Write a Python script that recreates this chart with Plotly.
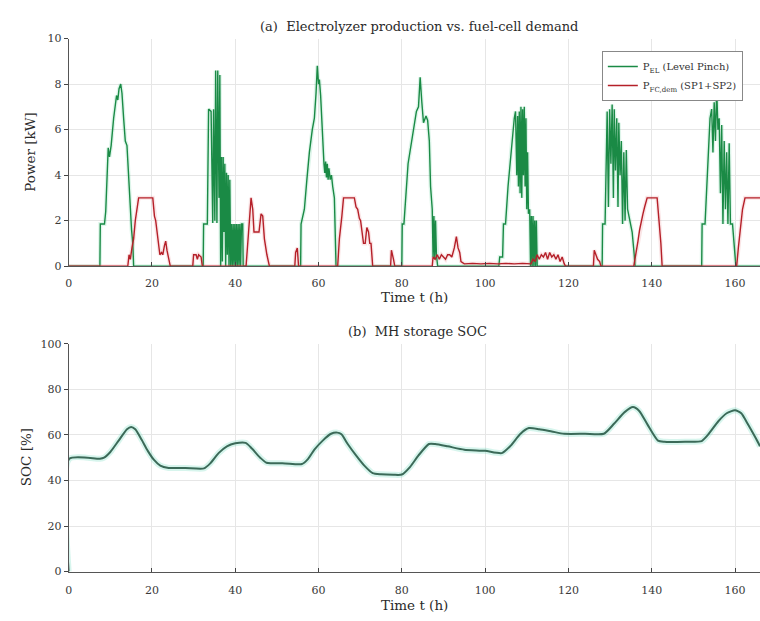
import plotly.graph_objects as go

# ---- electrolyzer power P_EL [kW]: (time h, value) breakpoints ----
el_t = [0, 7.5, 7.6, 8.6, 8.9, 9.3, 9.5, 9.8, 10.2, 10.8, 11.2, 11.5, 11.8, 12.1, 12.5, 12.8, 13.2, 13.6, 14.0, 14.3, 14.6, 14.9, 15.1, 15.4, 15.6,
        32.3, 32.4, 33.3, 33.6, 34.2, 34.6, 34.8, 35.1, 35.3, 35.6, 35.8, 36.1, 36.3, 36.5, 36.7, 36.9, 37.1, 37.3, 37.5, 37.7, 37.9, 38.1, 38.3, 38.5,
        38.7, 38.9, 39.1, 39.3, 39.5, 39.7, 39.9, 40.1, 40.3, 40.5, 40.7, 40.9, 41.1, 41.3, 41.5, 41.8, 41.9,
        55.7, 55.8, 56.6, 57.2, 57.8, 58.5, 59.0, 59.4, 59.7, 60.0, 60.2, 60.5, 60.8, 61.0, 61.3, 61.5, 61.7, 61.9, 62.1, 62.3, 62.5, 62.8, 63.1, 63.4, 63.8, 64.2,
        80.0, 80.1, 80.5, 81.5, 82.3, 83.0, 83.5, 84.0, 84.4, 84.8, 85.2, 85.8, 86.2, 86.6, 86.9, 87.3, 87.5, 87.7, 87.9, 88.1, 88.3, 88.6,
        103.3, 103.5, 104.2, 104.4, 104.9, 105.5, 106.3, 107.0, 107.3, 107.6, 107.8, 108.0, 108.2, 108.4, 108.6, 108.8, 109.0, 109.2, 109.4, 109.6, 109.8,
        110.0, 110.2, 110.4, 110.7, 110.9, 111.1, 111.3, 111.5, 111.7, 111.9, 112.1, 112.3, 112.5,
        128.1, 128.2, 128.8, 129.3, 129.6, 129.9, 130.2, 130.5, 130.8, 131.0, 131.3, 131.6, 131.9, 132.1, 132.4, 132.7, 133.0, 133.3, 133.6, 133.9, 134.2,
        134.5, 134.8, 135.3, 135.8, 136.0,
        152.0, 152.1, 152.8, 153.5, 154.0, 154.4, 154.7, 155.0, 155.3, 155.6, 155.9, 156.2, 156.5, 156.8, 157.1, 157.4, 157.7, 158.0, 158.3, 158.6, 158.9,
        159.4, 159.8, 160.2, 166]
el_p = [0, 0, 1.85, 1.85, 2.4, 4.6, 5.2, 4.8, 5.3, 6.5, 7.2, 7.5, 7.3, 7.8, 8.0, 7.6, 6.5, 5.5, 5.3, 4.2, 3.0, 2.5, 1.6, 1.0, 0,
        0, 1.85, 1.85, 6.9, 6.8, 1.9, 6.9, 2.0, 8.6, 1.9, 8.6, 3.0, 8.4, 0, 4.8, 0.2, 4.8, 1.5, 4.5, 0, 4.1, 0.5, 4.0, 0,
        3.8, 0, 1.85, 0, 1.85, 0, 1.85, 0, 1.85, 0, 1.85, 0, 1.85, 0, 1.85, 1.85, 0,
        0, 1.85, 2.5, 3.8, 5.0, 6.0, 6.5, 7.6, 8.8, 8.0, 8.2, 7.5, 6.3, 5.0, 4.5, 4.1, 4.6, 3.9, 4.5, 3.8, 4.3, 3.8, 4.0, 3.5, 3.0, 0,
        0, 1.85, 1.85, 4.5, 5.5, 6.3, 6.8, 7.0, 8.3, 7.2, 6.3, 6.6, 6.4, 5.5, 3.5, 2.5, 0.4, 2.2, 0.3, 2.0, 0.5, 0,
        0, 0.4, 0.4, 1.85, 1.85, 3.5, 5.2, 6.5, 6.8, 4.0, 6.6, 3.5, 6.8, 3.2, 7.0, 3.0, 6.9, 4.0, 7.0, 3.5, 6.5,
        2.5, 5.0, 2.3, 2.5, 0, 2.2, 0, 2.2, 0, 2.0, 0, 2.0, 0,
        0, 1.85, 1.85, 6.8, 2.6, 6.9, 4.5, 7.1, 3.0, 6.9, 4.2, 6.5, 2.6, 6.3, 4.0, 5.5, 1.85, 5.0, 2.0, 5.1, 2.5,
        2.2, 1.9, 1.5, 0.5, 0,
        0, 1.85, 1.85, 4.5, 6.5, 6.9, 5.0, 7.2, 5.5, 7.8, 6.0, 6.5, 3.2, 6.2, 1.85, 5.5, 2.5, 5.0, 1.85, 5.4, 1.85,
        1.85, 0.8, 0, 0]

# ---- fuel-cell demand P_FC,dem [kW] ----
fc_t = [0, 14.2, 14.5, 14.8, 15.2, 15.6, 16.0, 16.5, 16.8, 20.2, 20.6, 20.9, 21.2, 21.6, 21.9, 22.3, 22.6, 23.0, 23.3, 23.6, 24.2, 24.4,
        29.8, 30.0, 30.6, 30.9, 31.2, 31.8, 32.1,
        42.6, 43.2, 43.8, 44.2, 44.5, 45.7, 46.2, 46.6, 47.0, 47.6, 48.2,
        54.3, 54.5, 54.9, 55.2,
        64.6, 65.0, 65.6, 66.0, 68.6, 69.0, 69.4, 69.8, 70.1, 70.5, 70.8, 71.2, 71.6, 72.0, 72.3, 72.6, 73.0,
        77.3, 77.5, 78.0, 78.3,
        87.3, 87.5, 88.0, 88.5, 89.0, 89.5, 90.0, 90.5, 91.0, 91.5, 92.0, 92.6, 93.1, 93.5, 93.9, 94.2, 95.0, 97.0, 99.0, 101.0,
        103.0, 105.0, 107.0, 109.0, 111.0,
        111.5, 112.0, 112.5, 113.0, 113.5, 114.0, 114.5, 115.0, 115.5, 116.0, 116.5, 117.0, 117.5, 118.0, 118.5, 119.0, 119.3,
        126.0, 126.2, 126.6, 127.0, 127.5, 127.8,
        135.7, 136.2, 136.7, 137.1, 137.5, 137.9, 138.3, 138.9, 141.3, 141.8, 142.2, 142.5,
        160.4, 160.8, 161.3, 161.8, 162.4, 166]
fc_p = [0, 0, 0.5, 0.3, 0.8, 1.2, 2.0, 2.8, 3.0, 3.0, 2.2, 2.0, 1.5, 1.0, 0.5, 0.6, 0.5, 0.9, 1.1, 0.7, 0.1, 0,
        0, 0.5, 0.5, 0.3, 0.5, 0.4, 0,
        0, 1.5, 3.0, 2.5, 1.5, 1.5, 2.3, 2.2, 1.2, 0.5, 0,
        0, 0.6, 0.8, 0,
        0, 1.2, 2.2, 3.0, 3.0, 2.6, 2.5, 2.1, 2.0, 1.5, 1.0, 1.0, 1.7, 1.5, 1.0, 1.0, 0,
        0, 0.7, 0.3, 0,
        0, 0.4, 0.3, 0.5, 0.3, 0.5, 0.4, 0.3, 0.5, 0.5, 0.4, 0.8, 1.3, 0.8, 0.6, 0.2, 0.1, 0.12, 0.1, 0.12,
        0.1, 0.12, 0.1, 0.12, 0.1,
        0.3, 0.2, 0.5, 0.3, 0.5, 0.4, 0.6, 0.3, 0.6, 0.4, 0.5, 0.3, 0.5, 0.2, 0.4, 0.1, 0,
        0, 0.7, 0.5, 0.3, 0.2, 0,
        0, 0.5, 1.1, 1.6, 2.0, 2.3, 2.6, 3.0, 3.0, 2.0, 1.0, 0,
        0, 0.8, 1.8, 2.5, 3.0, 3.0]

# ---- metal-hydride storage state of charge [%] ----
soc_t = [0, 0.15, 7.5, 8.5, 10, 12, 14, 15, 16, 17.5, 19, 20.5, 22, 24, 28, 32.5, 34, 36, 38, 40, 42.5, 44, 46, 47.5, 52, 56,
         57.5, 59, 61, 63, 64.5, 65.5, 67, 69, 71, 73, 75, 78, 80, 82, 84, 86.5, 88, 91, 95, 100, 104, 106, 108.5, 110.5,
         113, 116, 119, 124, 128.5, 131, 133.5, 135.5, 137, 139, 141.5, 143, 148, 152, 153.5, 156, 158, 160, 161.5, 163, 165, 166]
soc_v = [0, 49.5, 49.5, 50, 52.5, 57.5, 62.5, 63.5, 62.5, 58, 53, 49, 46.5, 45.5, 45.5, 45.3, 47.5, 52, 55, 56.3, 56.5, 54, 50, 47.8, 47.5, 47.2,
         49.5, 53.5, 57.5, 60.5, 61, 60.3, 56, 51, 46.5, 43.2, 42.7, 42.5, 42.6, 46, 51, 56, 56, 55, 53.5, 53, 52, 55, 60.5, 63,
         62.5, 61.5, 60.5, 60.5, 60.5, 65, 70, 72.2, 70.5, 64.5, 57.5, 57, 57, 57.3, 60, 66, 69.5, 70.8, 69.5, 65, 58.5, 55]

x_ticks = [0, 20, 40, 60, 80, 100, 120, 140, 160]
p_ticks = [0, 2, 4, 6, 8, 10]
soc_ticks = [0, 20, 40, 60, 80, 100]

GREEN = "#1a8a45"
RED = "#b52029"
SOC_C = "#3b6a58"
FONT = "DejaVu Serif"
TXT = "#2a2a2a"

W, H = 760, 621


def px(xp):
    return xp / W


def py(yp):
    return 1 - yp / H


fig = go.Figure()

# glow under each line
fig.add_trace(go.Scatter(x=el_t, y=el_p, mode="lines", line=dict(color="rgba(70,200,140,0.18)", width=4),
                         showlegend=False, hoverinfo="skip", xaxis="x", yaxis="y"))
fig.add_trace(go.Scatter(x=el_t, y=el_p, mode="lines", line=dict(color=GREEN, width=1.4),
                         name="P<sub>EL</sub> (Level Pinch)", xaxis="x", yaxis="y"))
fig.add_trace(go.Scatter(x=fc_t, y=fc_p, mode="lines", line=dict(color="rgba(220,80,90,0.15)", width=4),
                         showlegend=False, hoverinfo="skip", xaxis="x", yaxis="y"))
fig.add_trace(go.Scatter(x=fc_t, y=fc_p, mode="lines", line=dict(color=RED, width=1.4),
                         name="P<sub>FC,dem</sub> (SP1+SP2)", xaxis="x", yaxis="y"))

fig.add_trace(go.Scatter(x=soc_t, y=soc_v, mode="lines", line=dict(color="rgba(110,220,190,0.28)", width=6, shape="spline", smoothing=0.6),
                         showlegend=False, hoverinfo="skip", xaxis="x2", yaxis="y2"))
fig.add_trace(go.Scatter(x=soc_t, y=soc_v, mode="lines", line=dict(color=SOC_C, width=2, shape="spline", smoothing=0.6),
                         showlegend=False, xaxis="x2", yaxis="y2"))

axis_common = dict(showgrid=True, gridcolor="#e6e6e6", gridwidth=1, zeroline=False,
                   showline=True, linecolor="#555555", linewidth=1,
                   tickfont=dict(family=FONT, size=11, color="#3a3a3a"))

fig.update_layout(
    width=W, height=H,
    margin=dict(l=0, r=0, t=0, b=0),
    paper_bgcolor="white", plot_bgcolor="white",
    font=dict(family=FONT, size=12, color=TXT),
    xaxis=dict(domain=[px(65), 1], range=[0, 166], tickvals=x_ticks, ticks="inside", ticklen=4,
               ticklabelstandoff=7, anchor="y", **axis_common),
    yaxis=dict(domain=[py(265.7), py(33.3)], range=[0, 10], tickvals=p_ticks, ticks="outside", ticklen=4,
               anchor="x", **axis_common),
    xaxis2=dict(domain=[px(65), 1], range=[0, 166], tickvals=x_ticks, ticks="inside", ticklen=4,
                ticklabelstandoff=8, anchor="y2", **axis_common),
    yaxis2=dict(domain=[py(577.7), py(345)], range=[0, 100], tickvals=soc_ticks, ticks="outside", ticklen=4,
                anchor="x2", **axis_common),
    legend=dict(x=px(601), y=py(46), xanchor="left", yanchor="top",
                bgcolor="white", bordercolor="#888888", borderwidth=1,
                font=dict(family=FONT, size=10, color="#333333"), tracegroupgap=0),
    showlegend=True,
)

# panel titles and axis titles
labels = [
    ("(a)  Electrolyzer production vs. fuel-cell demand", 417, 21, 0, 13),
    ("(b)  MH storage SOC", 416, 332, 0, 13),
    ("Time t (h)", 413, 297, 0, 13.5),
    ("Time t (h)", 413, 612, 0, 13.5),
    ("Power [kW]", 26, 149, -90, 13.5),
    ("SOC [%]", 22, 461, -90, 13.5),
]
for text, xp, yp, ang, size in labels:
    fig.add_annotation(text=text, x=px(xp), y=py(yp), xref="paper", yref="paper",
                       xanchor="center", yanchor="middle", textangle=ang, showarrow=False,
                       font=dict(family=FONT, size=size, color=TXT))

fig.write_html("out.html")
